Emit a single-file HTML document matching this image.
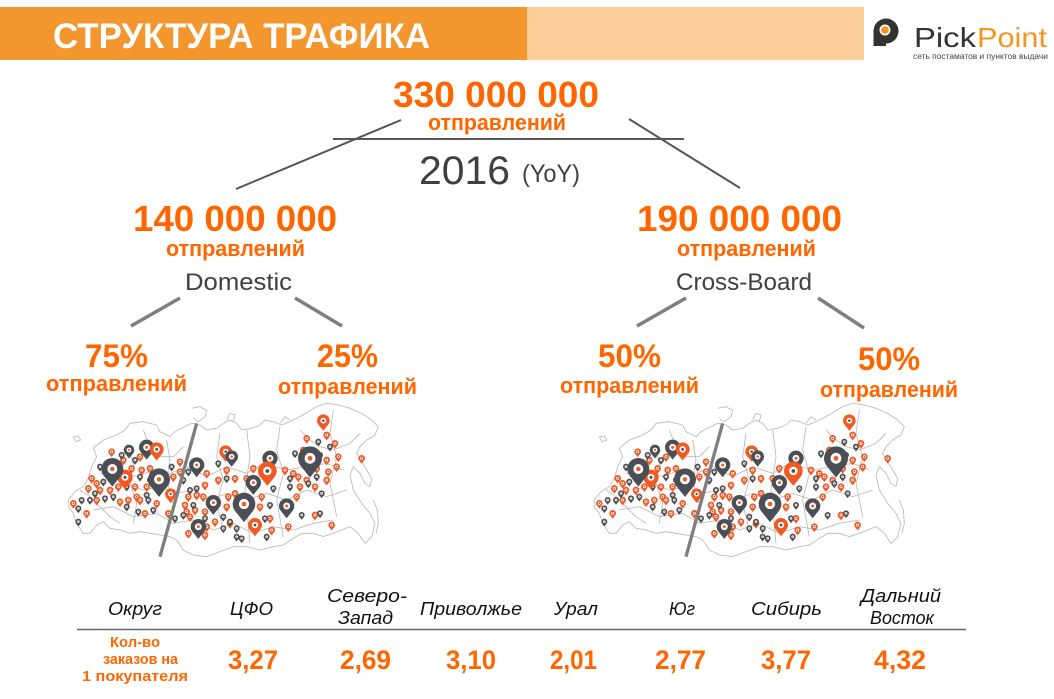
<!DOCTYPE html>
<html>
<head>
<meta charset="utf-8">
<style>
html,body{margin:0;padding:0;background:#fff;}
svg{display:block;}
text{font-family:"Liberation Sans","Noto Sans CJK SC",sans-serif;}
</style>
</head>
<body>
<svg width="1054" height="699" viewBox="0 0 1054 699" xmlns="http://www.w3.org/2000/svg">
<defs>
  <g id="po">
    <path d="M0,1.6 L-0.78,0.625 A1,1 0 1 1 0.78,0.625 Z" fill="#F15A22"/>
    <circle r="0.45" fill="#fff"/>
    <circle r="0.2" fill="#4a4f55"/>
  </g>
  <g id="pd">
    <path d="M0,1.6 L-0.78,0.625 A1,1 0 1 1 0.78,0.625 Z" fill="#4a4f55"/>
    <circle r="0.45" fill="#fff"/>
    <circle r="0.2" fill="#F15A22"/>
  </g>
  <g id="map">
    <g fill="none" stroke="#b8b8b8" stroke-width="2.5" stroke-linejoin="round">
      <path d="M25,330 L45,305 70,290 85,265 95,230 110,200 100,175 130,150 170,135 195,120 210,100 250,95 290,105 300,125 330,140 345,125 375,110 395,100 420,105 440,120 470,115 490,100 510,90 530,100 545,120 575,115 600,105 615,90 640,95 665,105 690,95 720,80 745,65 770,50 800,40 835,45 870,55 905,70 935,90 955,110 945,135 920,150 900,170 890,190 905,215 920,240 935,265 930,290 915,280 900,250 880,230 870,255 880,300 905,340 930,370 945,400 935,440 915,460 895,430 870,410 845,420 820,430 790,440 760,430 725,430 700,445 670,465 640,470 600,480 560,470 520,470 480,485 440,500 400,495 370,480 350,450 330,440 300,435 270,430 240,425 210,430 180,420 150,415 130,395 110,405 90,430 70,430 50,400 40,370 25,350 Z"/>
      <path d="M395,55 L420,50 440,62 435,80 415,95 400,85"/>
      <path d="M40,140 L55,138 62,150 48,155 Z"/>
      <path d="M940,330 L952,360 955,400 948,430"/>
      <path d="M500,90 L510,70 525,75 520,95"/>
      <path d="M660,100 L675,80 690,90"/>
      <path d="M150,300 L200,280 250,300 300,290 350,310 400,300 450,330 500,310 560,330 620,310 680,330 740,300 800,320 860,300"/>
      <path d="M120,250 L180,240 230,260 280,240 330,250 380,230 440,260 500,230 560,250 610,220 680,240 740,230 800,220 850,240"/>
      <path d="M100,360 L160,350 220,380 290,370 340,400 400,390 460,420 520,400 580,430 640,410 700,420 760,400 820,390"/>
      <path d="M200,160 L220,220 210,280 230,340 220,400"/>
      <path d="M480,130 L470,200 490,270 470,340 490,420"/>
      <path d="M660,110 L650,180 670,250 650,330 670,440"/>
      <path d="M820,60 L810,130 830,200 810,280 830,380"/>
      <path d="M320,150 L330,210 320,270 340,340"/>
      <path d="M560,120 L570,200 555,300 570,460"/>
      <path d="M60,300 L90,320 120,350 150,380 180,400"/>
      <path d="M250,120 L270,170 300,200 340,200 370,170"/>
      <path d="M720,120 L750,150 780,170 820,180 870,160 900,130"/>
    </g>
    <!-- small pins -->
    <g>
      <use href="#po" transform="translate(740,145) scale(10)"/>
      <use href="#po" transform="translate(800,135) scale(10)"/>
      <use href="#po" transform="translate(825,160) scale(10)"/>
      <use href="#po" transform="translate(155,185) scale(10)"/>
      <use href="#po" transform="translate(240,200) scale(10)"/>
      <use href="#po" transform="translate(190,210) scale(10)"/>
      <use href="#po" transform="translate(360,215) scale(10)"/>
      <use href="#po" transform="translate(730,180) scale(10)"/>
      <use href="#po" transform="translate(835,200) scale(10)"/>
      <use href="#po" transform="translate(800,210) scale(10)"/>
      <use href="#po" transform="translate(905,205) scale(10)"/>
      <use href="#po" transform="translate(215,235) scale(10)"/>
      <use href="#po" transform="translate(245,240) scale(10)"/>
      <use href="#po" transform="translate(270,235) scale(10)"/>
      <use href="#po" transform="translate(360,245) scale(10)"/>
      <use href="#po" transform="translate(440,250) scale(10)"/>
      <use href="#po" transform="translate(500,240) scale(10)"/>
      <use href="#po" transform="translate(580,235) scale(10)"/>
      <use href="#po" transform="translate(675,240) scale(10)"/>
      <use href="#po" transform="translate(700,250) scale(10)"/>
      <use href="#po" transform="translate(770,235) scale(10)"/>
      <use href="#po" transform="translate(805,245) scale(10)"/>
      <use href="#po" transform="translate(830,230) scale(10)"/>
      <use href="#po" transform="translate(95,265) scale(10)"/>
      <use href="#po" transform="translate(110,280) scale(10)"/>
      <use href="#po" transform="translate(340,260) scale(10)"/>
      <use href="#po" transform="translate(435,285) scale(10)"/>
      <use href="#po" transform="translate(475,270) scale(10)"/>
      <use href="#po" transform="translate(525,265) scale(10)"/>
      <use href="#po" transform="translate(560,265) scale(10)"/>
      <use href="#po" transform="translate(715,260) scale(10)"/>
      <use href="#po" transform="translate(740,270) scale(10)"/>
      <use href="#po" transform="translate(720,290) scale(10)"/>
      <use href="#po" transform="translate(765,290) scale(10)"/>
      <use href="#po" transform="translate(800,270) scale(10)"/>
      <use href="#po" transform="translate(40,340) scale(10)"/>
      <use href="#po" transform="translate(85,295) scale(10)"/>
      <use href="#po" transform="translate(120,300) scale(10)"/>
      <use href="#po" transform="translate(150,300) scale(10)"/>
      <use href="#po" transform="translate(175,290) scale(10)"/>
      <use href="#po" transform="translate(225,290) scale(10)"/>
      <use href="#po" transform="translate(260,290) scale(10)"/>
      <use href="#po" transform="translate(230,320) scale(10)"/>
      <use href="#po" transform="translate(385,320) scale(10)"/>
      <use href="#po" transform="translate(410,315) scale(10)"/>
      <use href="#po" transform="translate(430,320) scale(10)"/>
      <use href="#po" transform="translate(505,320) scale(10)"/>
      <use href="#po" transform="translate(525,310) scale(10)"/>
      <use href="#po" transform="translate(605,320) scale(10)"/>
      <use href="#po" transform="translate(710,320) scale(10)"/>
      <use href="#po" transform="translate(110,330) scale(10)"/>
      <use href="#po" transform="translate(180,335) scale(10)"/>
      <use href="#po" transform="translate(205,330) scale(10)"/>
      <use href="#po" transform="translate(240,330) scale(10)"/>
      <use href="#po" transform="translate(290,340) scale(10)"/>
      <use href="#po" transform="translate(375,345) scale(10)"/>
      <use href="#po" transform="translate(380,365) scale(10)"/>
      <use href="#po" transform="translate(405,360) scale(10)"/>
      <use href="#po" transform="translate(500,350) scale(10)"/>
      <use href="#po" transform="translate(600,350) scale(10)"/>
      <use href="#po" transform="translate(80,370) scale(10)"/>
      <use href="#po" transform="translate(255,370) scale(10)"/>
      <use href="#po" transform="translate(325,370) scale(10)"/>
      <use href="#po" transform="translate(390,380) scale(10)"/>
      <use href="#po" transform="translate(435,365) scale(10)"/>
      <use href="#po" transform="translate(465,395) scale(10)"/>
      <use href="#po" transform="translate(630,385) scale(10)"/>
      <use href="#po" transform="translate(765,375) scale(10)"/>
      <use href="#po" transform="translate(510,400) scale(10)"/>
      <use href="#po" transform="translate(440,410) scale(10)"/>
      <use href="#po" transform="translate(385,430) scale(10)"/>
      <use href="#po" transform="translate(435,435) scale(10)"/>
      <use href="#po" transform="translate(635,420) scale(10)"/>
      <use href="#po" transform="translate(685,410) scale(10)"/>
      <use href="#po" transform="translate(815,405) scale(10)"/>

      <use href="#pd" transform="translate(775,155) scale(9)"/>
      <use href="#pd" transform="translate(810,170) scale(9)"/>
      <use href="#pd" transform="translate(185,195) scale(9)"/>
      <use href="#pd" transform="translate(225,210) scale(9)"/>
      <use href="#pd" transform="translate(705,190) scale(9)"/>
      <use href="#pd" transform="translate(780,195) scale(9)"/>
      <use href="#pd" transform="translate(120,230) scale(9)"/>
      <use href="#pd" transform="translate(335,230) scale(9)"/>
      <use href="#pd" transform="translate(385,245) scale(9)"/>
      <use href="#pd" transform="translate(475,220) scale(9)"/>
      <use href="#pd" transform="translate(130,275) scale(9)"/>
      <use href="#pd" transform="translate(240,260) scale(9)"/>
      <use href="#pd" transform="translate(270,270) scale(9)"/>
      <use href="#pd" transform="translate(370,270) scale(9)"/>
      <use href="#pd" transform="translate(500,265) scale(9)"/>
      <use href="#pd" transform="translate(690,265) scale(9)"/>
      <use href="#pd" transform="translate(770,260) scale(9)"/>
      <use href="#pd" transform="translate(690,290) scale(9)"/>
      <use href="#pd" transform="translate(745,280) scale(9)"/>
      <use href="#pd" transform="translate(200,290) scale(9)"/>
      <use href="#pd" transform="translate(260,315) scale(9)"/>
      <use href="#pd" transform="translate(390,300) scale(9)"/>
      <use href="#pd" transform="translate(410,295) scale(9)"/>
      <use href="#pd" transform="translate(640,295) scale(9)"/>
      <use href="#pd" transform="translate(785,310) scale(9)"/>
      <use href="#pd" transform="translate(65,330) scale(9)"/>
      <use href="#pd" transform="translate(105,310) scale(9)"/>
      <use href="#pd" transform="translate(90,330) scale(9)"/>
      <use href="#pd" transform="translate(135,325) scale(9)"/>
      <use href="#pd" transform="translate(160,320) scale(9)"/>
      <use href="#pd" transform="translate(265,330) scale(9)"/>
      <use href="#pd" transform="translate(400,345) scale(9)"/>
      <use href="#pd" transform="translate(630,345) scale(9)"/>
      <use href="#pd" transform="translate(55,355) scale(9)"/>
      <use href="#pd" transform="translate(55,395) scale(9)"/>
      <use href="#pd" transform="translate(200,350) scale(9)"/>
      <use href="#pd" transform="translate(235,365) scale(9)"/>
      <use href="#pd" transform="translate(280,360) scale(9)"/>
      <use href="#pd" transform="translate(345,385) scale(9)"/>
      <use href="#pd" transform="translate(370,375) scale(9)"/>
      <use href="#pd" transform="translate(435,385) scale(9)"/>
      <use href="#pd" transform="translate(490,380) scale(9)"/>
      <use href="#pd" transform="translate(510,395) scale(9)"/>
      <use href="#pd" transform="translate(615,385) scale(9)"/>
      <use href="#pd" transform="translate(725,375) scale(9)"/>
      <use href="#pd" transform="translate(780,370) scale(9)"/>
      <use href="#pd" transform="translate(530,415) scale(9)"/>
      <use href="#pd" transform="translate(490,415) scale(9)"/>
      <use href="#pd" transform="translate(530,440) scale(9)"/>
      <use href="#pd" transform="translate(545,445) scale(9)"/>
      <use href="#pd" transform="translate(620,440) scale(9)"/>
    </g>
    <!-- medium pins -->
    <use href="#po" transform="translate(195,262) scale(23)"/>
    <use href="#po" transform="translate(332,312) scale(17)"/>
    <use href="#pd" transform="translate(207,180) scale(16)"/>
    <use href="#pd" transform="translate(260,172) scale(23)"/>
    <use href="#po" transform="translate(290,178) scale(21)"/>
    <use href="#pd" transform="translate(410,225) scale(23)"/>
    <use href="#pd" transform="translate(460,338) scale(23)"/>
    <use href="#pd" transform="translate(415,410) scale(23)"/>
    <use href="#pd" transform="translate(580,278) scale(23)"/>
    <use href="#pd" transform="translate(630,205) scale(23)"/>
    <use href="#pd" transform="translate(680,348) scale(23)"/>
    <use href="#po" transform="translate(497,185) scale(19)"/>
    <use href="#pd" transform="translate(515,200) scale(19)"/>
    <use href="#po" transform="translate(622,243) scale(28)"/>
    <use href="#po" transform="translate(790,92) scale(19)"/>
    <use href="#po" transform="translate(585,405) scale(21)"/>
    <!-- big pins -->
    <use href="#pd" transform="translate(157,237) scale(33)"/>
    <use href="#pd" transform="translate(297,268) scale(33)"/>
    <use href="#pd" transform="translate(552,342) scale(34)"/>
    <use href="#pd" transform="translate(750,205) scale(36)"/>
    <!-- divider -->
    <line x1="410" y1="100" x2="300" y2="500" stroke="#7f7f7f" stroke-width="10"/>
  </g>
</defs>

<!-- header -->
<rect x="0" y="7" width="527" height="53" fill="#F2962D"/>
<rect x="527" y="7" width="337" height="53" fill="#FBCD97"/>
<text x="53" y="48" font-size="35" font-weight="bold" fill="#fff" textLength="377" lengthAdjust="spacingAndGlyphs">СТРУКТУРА ТРАФИКА</text>

<!-- logo -->
<circle cx="886" cy="31" r="12.5" fill="#333"/>
<rect x="873.5" y="31" width="12.5" height="15" fill="#333"/>
<circle cx="885" cy="30" r="5.5" fill="#fff"/>
<circle cx="885" cy="30" r="3.8" fill="#F7941D"/>
<text x="914" y="47" font-size="28" fill="#333" textLength="62" lengthAdjust="spacingAndGlyphs">Pick</text>
<text x="977" y="47" font-size="28" fill="#F7941D" textLength="70" lengthAdjust="spacingAndGlyphs">Point</text>
<text x="913" y="59" font-size="8" fill="#444" textLength="135" lengthAdjust="spacingAndGlyphs">сеть постаматов и пунктов выдачи</text>

<!-- top node -->
<text x="393" y="107" font-size="36" font-weight="bold" fill="#FF6600" textLength="206" lengthAdjust="spacingAndGlyphs">330 000 000</text>
<text x="428" y="130" font-size="22" font-weight="bold" fill="#FF6600" textLength="138" lengthAdjust="spacingAndGlyphs">отправлений</text>
<line x1="333" y1="139" x2="684" y2="139" stroke="#595959" stroke-width="2"/>
<text x="419" y="184" font-size="40" fill="#404040" textLength="91" lengthAdjust="spacingAndGlyphs">2016</text>
<text x="522" y="182" font-size="25" fill="#404040" textLength="58" lengthAdjust="spacingAndGlyphs">(YoY)</text>
<line x1="401" y1="120" x2="236" y2="189" stroke="#555" stroke-width="2"/>
<line x1="629" y1="119" x2="740" y2="188" stroke="#555" stroke-width="2"/>

<!-- second level -->
<text x="133" y="231" font-size="36" font-weight="bold" fill="#FF6600" textLength="204" lengthAdjust="spacingAndGlyphs">140 000 000</text>
<text x="166" y="256" font-size="22" font-weight="bold" fill="#FF6600" textLength="139" lengthAdjust="spacingAndGlyphs">отправлений</text>
<text x="185" y="290" font-size="24" fill="#404040" textLength="107" lengthAdjust="spacingAndGlyphs">Domestic</text>

<text x="637" y="231" font-size="36" font-weight="bold" fill="#FF6600" textLength="205" lengthAdjust="spacingAndGlyphs">190 000 000</text>
<text x="677" y="256" font-size="22" font-weight="bold" fill="#FF6600" textLength="139" lengthAdjust="spacingAndGlyphs">отправлений</text>
<text x="676" y="290" font-size="24" fill="#404040" textLength="136" lengthAdjust="spacingAndGlyphs">Cross-Board</text>

<line x1="180" y1="298" x2="131" y2="326" stroke="#7f7f7f" stroke-width="3.5"/>
<line x1="295" y1="298" x2="342" y2="326" stroke="#7f7f7f" stroke-width="3.5"/>
<line x1="686" y1="298" x2="637" y2="326" stroke="#7f7f7f" stroke-width="3.5"/>
<line x1="818" y1="298" x2="864" y2="328" stroke="#7f7f7f" stroke-width="3.5"/>

<!-- percentages -->
<text x="85" y="367" font-size="32" font-weight="bold" fill="#FF6600" textLength="63" lengthAdjust="spacingAndGlyphs">75%</text>
<text x="46" y="391" font-size="22" font-weight="bold" fill="#FF6600" textLength="141" lengthAdjust="spacingAndGlyphs">отправлений</text>
<text x="317" y="367" font-size="32" font-weight="bold" fill="#FF6600" textLength="61" lengthAdjust="spacingAndGlyphs">25%</text>
<text x="278" y="394" font-size="22" font-weight="bold" fill="#FF6600" textLength="139" lengthAdjust="spacingAndGlyphs">отправлений</text>
<text x="598" y="367" font-size="32" font-weight="bold" fill="#FF6600" textLength="63" lengthAdjust="spacingAndGlyphs">50%</text>
<text x="560" y="393" font-size="22" font-weight="bold" fill="#FF6600" textLength="139" lengthAdjust="spacingAndGlyphs">отправлений</text>
<text x="858" y="370" font-size="32" font-weight="bold" fill="#FF6600" textLength="62" lengthAdjust="spacingAndGlyphs">50%</text>
<text x="820" y="397" font-size="22" font-weight="bold" fill="#FF6600" textLength="138" lengthAdjust="spacingAndGlyphs">отправлений</text>

<!-- maps -->
<g transform="translate(60,390) scale(0.33333)"><use href="#map"/></g>
<g transform="translate(586,390) scale(0.33333)"><use href="#map"/></g>

<!-- table -->
<g font-style="italic" font-size="18" fill="#111">
  <text x="108" y="615" textLength="54" lengthAdjust="spacingAndGlyphs">Округ</text>
  <text x="230" y="615" textLength="43" lengthAdjust="spacingAndGlyphs">ЦФО</text>
  <text x="327" y="602" textLength="80" lengthAdjust="spacingAndGlyphs">Северо-</text>
  <text x="338" y="624" textLength="55" lengthAdjust="spacingAndGlyphs">Запад</text>
  <text x="420" y="615" textLength="102" lengthAdjust="spacingAndGlyphs">Приволжье</text>
  <text x="554" y="615" textLength="44" lengthAdjust="spacingAndGlyphs">Урал</text>
  <text x="669" y="615" textLength="26" lengthAdjust="spacingAndGlyphs">Юг</text>
  <text x="751" y="615" textLength="71" lengthAdjust="spacingAndGlyphs">Сибирь</text>
  <text x="861" y="602" textLength="80" lengthAdjust="spacingAndGlyphs">Дальний</text>
  <text x="870" y="624" textLength="64" lengthAdjust="spacingAndGlyphs">Восток</text>
</g>
<line x1="77" y1="629.5" x2="966" y2="629.5" stroke="#666" stroke-width="1.5"/>

<g font-weight="bold" font-size="15" fill="#FF6600">
  <text x="110" y="647" textLength="50" lengthAdjust="spacingAndGlyphs">Кол-во</text>
  <text x="103" y="664" textLength="75" lengthAdjust="spacingAndGlyphs">заказов на</text>
  <text x="82" y="681" textLength="106" lengthAdjust="spacingAndGlyphs">1 покупателя</text>
</g>
<g font-weight="bold" font-size="27" fill="#FF6600">
  <text x="228" y="669" textLength="50" lengthAdjust="spacingAndGlyphs">3,27</text>
  <text x="340" y="669" textLength="51" lengthAdjust="spacingAndGlyphs">2,69</text>
  <text x="446" y="669" textLength="50" lengthAdjust="spacingAndGlyphs">3,10</text>
  <text x="550" y="669" textLength="47" lengthAdjust="spacingAndGlyphs">2,01</text>
  <text x="655" y="669" textLength="51" lengthAdjust="spacingAndGlyphs">2,77</text>
  <text x="761" y="669" textLength="50" lengthAdjust="spacingAndGlyphs">3,77</text>
  <text x="874" y="669" textLength="52" lengthAdjust="spacingAndGlyphs">4,32</text>
</g>
</svg>
</body>
</html>
